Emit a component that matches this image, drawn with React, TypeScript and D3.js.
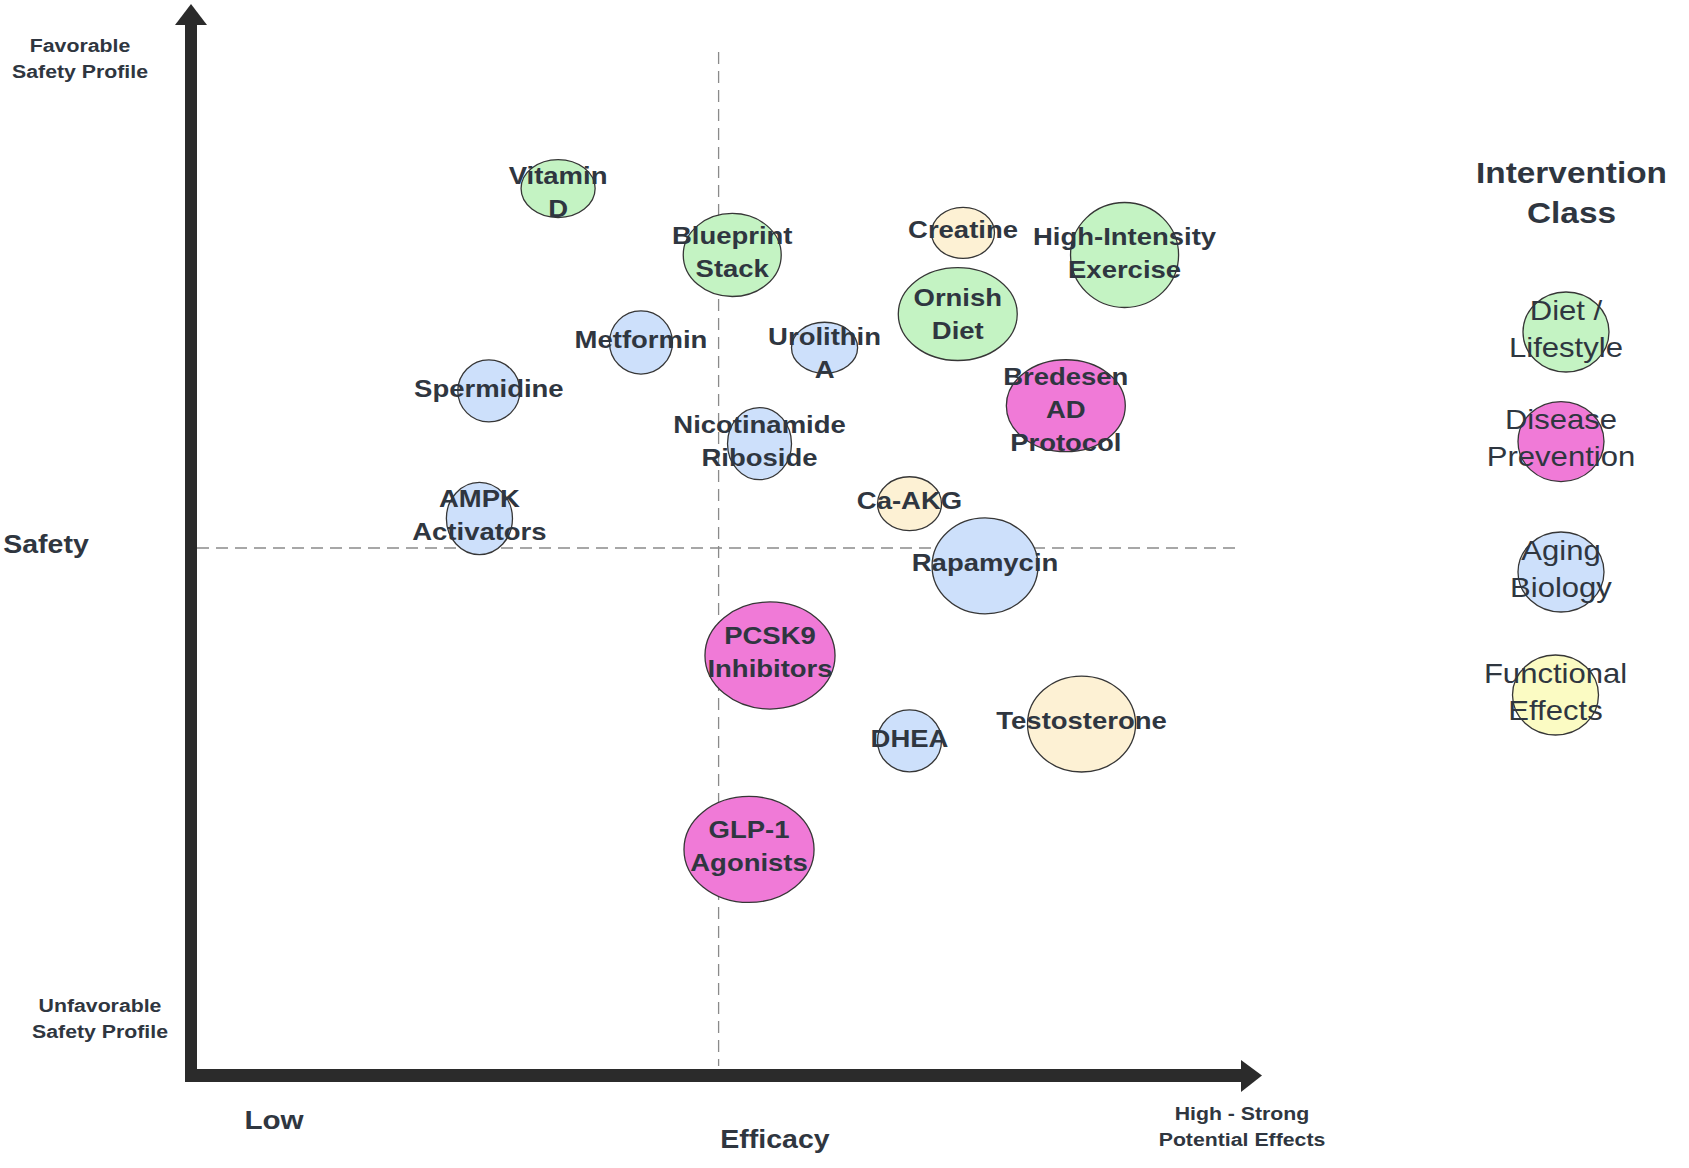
import React from "react";
import * as d3 from "d3";

// ---- data ----
const names = [
  "Vitamin\nD", "Blueprint\nStack", "Creatine", "High-Intensity\nExercise", "Ornish\nDiet",
  "Metformin", "Urolithin\nA", "Spermidine", "Bredesen\nAD\nProtocol", "Nicotinamide\nRiboside",
  "AMPK\nActivators", "Ca-AKG", "Rapamycin", "PCSK9\nInhibitors", "DHEA", "Testosterone", "GLP-1\nAgonists",
];
const classes = [
  "diet", "diet", "func", "diet", "diet",
  "aging", "aging", "aging", "disease", "aging",
  "aging", "func", "aging", "disease", "aging", "func", "disease",
];
const efficacy = [3.49, 5.15, 7.35, 8.89, 7.30, 4.28, 6.03, 2.83, 8.33, 5.41, 2.74, 6.84, 7.56, 5.51, 6.84, 8.48, 5.31];
const safety = [8.41, 7.78, 7.99, 7.78, 7.22, 6.95, 6.90, 6.49, 6.35, 5.99, 5.28, 5.42, 4.83, 3.98, 3.17, 3.33, 2.14];
const spanX = [0.353, 0.467, 0.30, 0.515, 0.567, 0.30, 0.315, 0.296, 0.567, 0.305, 0.315, 0.305, 0.505, 0.62, 0.305, 0.515, 0.62];
const spanY = [0.275, 0.394, 0.242, 0.498, 0.441, 0.30, 0.242, 0.294, 0.436, 0.342, 0.342, 0.256, 0.455, 0.508, 0.294, 0.455, 0.503];

const legendKeys = ["diet", "disease", "aging", "legendFunc"];
const legendLabels = ["Diet /\nLifestyle", "Disease\nPrevention", "Aging\nBiology", "Functional\nEffects"];

const colors: Record<string, string> = {
  diet: "#c4f3c3",
  disease: "#f07ad7",
  aging: "#cde0fb",
  func: "#fdf1d4",
  legendFunc: "#fbfbc3",
};

// label vertical nudges (px) relative to bubble centre
const labelNudge: Record<string, number> = {
  "Vitamin\nD": 6.5,
  "Urolithin\nA": 8.6,
  "Bredesen\nAD\nProtocol": 6.5,
  "Ornish\nDiet": 3,
  "High-Intensity\nExercise": 1,
  Spermidine: 1,
  DHEA: 1,
};

const TEXT = "#2f3640";
const FONT = "'Liberation Sans', Arial, Helvetica, sans-serif";

export default function App() {
  const W = 1689, H = 1168;
  const x = d3.scaleLinear().domain([0, 10]).range([192, 1241]);
  const y = d3.scaleLinear().domain([0, 10]).range([1075, 21]);
  const midX = 5.02;
  const midY = 5;

  const multiline = (
    txt: string, cx: number, cy: number, size: number, lh: number, weight: string, sx: number, key?: string
  ) => {
    const lines = txt.split("\n");
    const start = cy - ((lines.length - 1) * lh) / 2;
    return (
      <g key={key}>
        {lines.map((l, i) => (
          <text
            key={i}
            transform={`translate(${cx},${start + i * lh}) scale(${sx},1)`}
            textAnchor="middle"
            dominantBaseline="central"
            fontFamily={FONT}
            fontWeight={weight}
            fontSize={size}
            fill={TEXT}
          >
            {l}
          </text>
        ))}
      </g>
    );
  };

  const legendY = [332, 441.6, 572, 695];
  const legendX = [1566, 1561, 1561, 1555.5];

  return (
    <svg width={W} height={H} style={{ position: "absolute", left: 0, top: 0, background: "#fff" }}>
      {/* dashed quadrant lines */}
      <line x1={x(midX)} x2={x(midX)} y1={52} y2={1066} stroke="#8a8a8a" strokeWidth={1.3} strokeDasharray="12,7" />
      <line x1={197} x2={x(10)} y1={y(midY)} y2={y(midY)} stroke="#8a8a8a" strokeWidth={1.3} strokeDasharray="12,7" />

      {/* axes */}
      <rect x={185} y={24} width={12} height={1058} fill="#2b2b2b" />
      <polygon points="175,25 191,4 207,25" fill="#2b2b2b" />
      <rect x={185} y={1069} width={1057} height={13} fill="#2b2b2b" />
      <polygon points="1241,1060 1262,1075.5 1241,1092" fill="#2b2b2b" />

      {/* bubbles */}
      {names.map((n, i) => (
        <ellipse
          key={"e" + i}
          cx={x(efficacy[i])}
          cy={y(safety[i])}
          rx={x(spanX[i]) - x(0)}
          ry={y(0) - y(spanY[i])}
          fill={colors[classes[i]]}
          stroke="#363636"
          strokeWidth={1.3}
        />
      ))}
      {names.map((n, i) =>
        multiline(n, x(efficacy[i]), y(safety[i]) - 3 + (labelNudge[n] || 0), 24, 33, "bold", 1.145, "t" + i)
      )}

      {/* axis labels */}
      {multiline("Favorable\nSafety Profile", 80, 58, 19, 26, "bold", 1.12)}
      {multiline("Unfavorable\nSafety Profile", 100, 1018, 19, 26, "bold", 1.12)}
      {multiline("Safety", 46, 545, 25, 30, "bold", 1.14)}
      {multiline("Low", 274, 1120, 26, 30, "bold", 1.14)}
      {multiline("Efficacy", 775, 1140, 25, 30, "bold", 1.14)}
      {multiline("High - Strong\nPotential Effects", 1242, 1126, 19, 26, "bold", 1.12)}

      {/* legend */}
      {multiline("Intervention\nClass", 1571.5, 193, 29, 40, "bold", 1.15)}
      {legendKeys.map((k, i) => (
        <g key={"l" + i}>
          <ellipse cx={legendX[i]} cy={legendY[i]} rx={43} ry={40} fill={colors[k]} stroke="#363636" strokeWidth={1.3} />
          {multiline(legendLabels[i], legendX[i], legendY[i] - 3, 27, 37, "normal", 1.15)}
        </g>
      ))}
    </svg>
  );
}
